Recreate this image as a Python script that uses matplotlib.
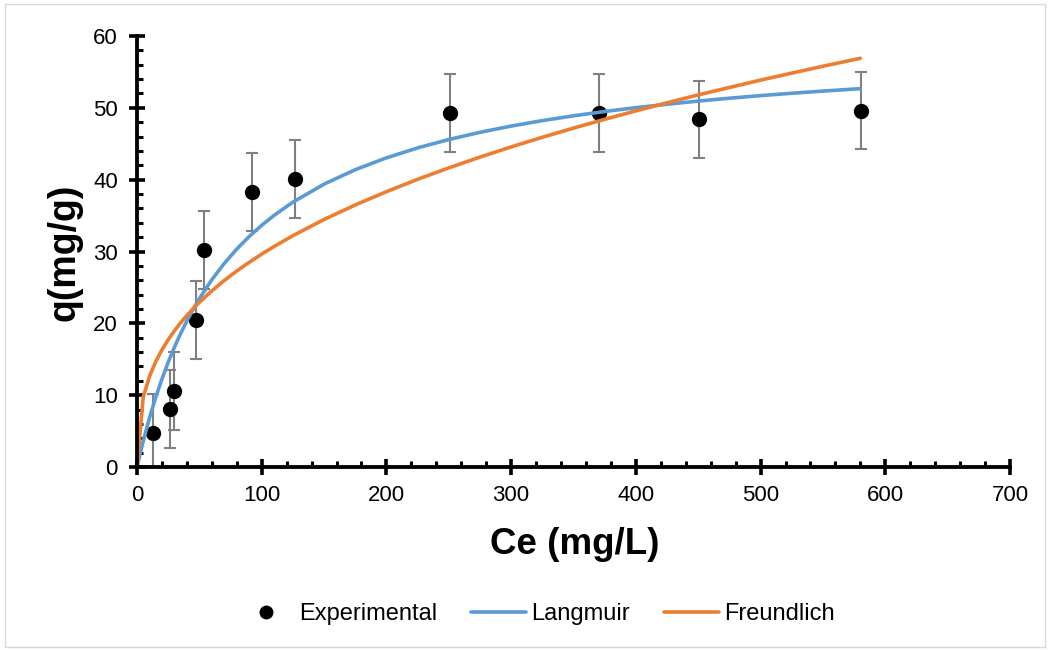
import matplotlib
matplotlib.use("Agg")
import matplotlib.pyplot as plt
from matplotlib.patches import Rectangle
from matplotlib.lines import Line2D
from matplotlib.ticker import MultipleLocator

plt.rcParams['font.family'] = ['Liberation Sans', 'DejaVu Sans']

# Experimental data
ce_exp = [12.8, 26.5, 29.7, 47.3, 53.7, 92.2, 126.7, 251, 370.5, 450.7, 580.6]
q_exp = [4.7, 8.1, 10.6, 20.5, 30.2, 38.3, 40.1, 49.3, 49.3, 48.4, 49.6]
q_err = [5.4, 5.4, 5.4, 5.4, 5.4, 5.4, 5.4, 5.4, 5.4, 5.4, 5.4]

# Fitted curves
ce_fit = [0, 5, 10, 15, 20, 25, 30, 35, 40, 45, 50, 60, 70, 80, 90, 100, 110, 125, 150, 175,
          200, 225, 250, 275, 300, 325, 350, 375, 400, 425, 450, 475, 500, 525, 550, 580]
q_langmuir = [0, 3.62, 6.83, 9.69, 12.26, 14.58, 16.68, 18.59, 20.34, 21.95, 23.43, 26.07,
              28.35, 30.34, 32.10, 33.65, 35.04, 36.87, 39.38, 41.39, 43.04, 44.42, 45.59,
              46.59, 47.46, 48.22, 48.89, 49.49, 50.02, 50.50, 50.94, 51.34, 51.70, 52.03,
              52.33, 52.67]
q_freundlich = [0, 9.76, 12.6, 14.66, 16.31, 17.72, 18.97, 20.08, 21.10, 22.04, 22.92, 24.52,
                25.97, 27.29, 28.50, 29.64, 30.71, 32.20, 34.46, 36.48, 38.33, 40.05, 41.64,
                43.14, 44.56, 45.90, 47.18, 48.40, 49.58, 50.70, 51.80, 52.83, 53.86, 54.83,
                55.79, 56.9]

BLUE = '#5B9BD5'
ORANGE = '#ED7D31'

fig = plt.figure(figsize=(10.49, 6.5), dpi=100)
ax = fig.add_axes([137/1049, 1-467/650, (1010-137)/1049, (467-36)/650])

fig.patches.append(Rectangle((5/1049, 3/650), 1040/1049, 643/650, transform=fig.transFigure,
                             fill=False, edgecolor='#d9d9d9', linewidth=1))

ax.errorbar(ce_exp, q_exp, yerr=q_err, fmt='o', color='black', markersize=10,
            ecolor='#808080', elinewidth=1.5, capsize=4.3, capthick=1.5, zorder=3)
ax.plot(ce_fit, q_langmuir, color=BLUE, linewidth=2.6, zorder=4, solid_capstyle='round',
        solid_joinstyle='round')
ax.plot(ce_fit, q_freundlich, color=ORANGE, linewidth=2.6, zorder=5, solid_capstyle='round',
        solid_joinstyle='round')

ax.set_xlim(0, 700)
ax.set_ylim(0, 60)
ax.xaxis.set_major_locator(MultipleLocator(100))
ax.xaxis.set_minor_locator(MultipleLocator(20))
ax.yaxis.set_major_locator(MultipleLocator(10))
ax.yaxis.set_minor_locator(MultipleLocator(2))

for s in ['top', 'right']:
    ax.spines[s].set_visible(False)
for s in ['left', 'bottom']:
    ax.spines[s].set_linewidth(2.75)
    ax.spines[s].set_color('black')
    ax.spines[s].set_zorder(6)

ax.tick_params(axis='both', which='major', direction='inout', length=11.5, width=2.6,
               labelsize=16, color='black')
ax.tick_params(axis='x', which='major', pad=7)
ax.tick_params(axis='y', which='major', pad=8)
ax.tick_params(axis='both', which='minor', direction='in', length=4.5, width=2.2, color='black')

ax.set_xlabel('Ce (mg/L)', fontsize=26.5, fontweight='bold')
ax.xaxis.set_label_coords((575-137)/873, (467-527)/431)
ax.set_ylabel('q(mg/g)', fontsize=27, fontweight='bold')
ax.yaxis.set_label_coords((83-137)/873, (467-252)/431)

handles = [
    Line2D([], [], marker='o', linestyle='none', color='black', markersize=9),
    Line2D([], [], color=BLUE, linewidth=2.6, solid_capstyle='round'),
    Line2D([], [], color=ORANGE, linewidth=2.6, solid_capstyle='round'),
]
labels = ['Experimental', 'Langmuir', 'Freundlich']
fig.legend(handles, labels, loc='center', bbox_to_anchor=(537/1049, 1-614/650), ncol=3,
           frameon=False, fontsize=17, handlelength=2.3, columnspacing=1.45,
           handletextpad=0.25)

fig.savefig('out.png', dpi=100)
